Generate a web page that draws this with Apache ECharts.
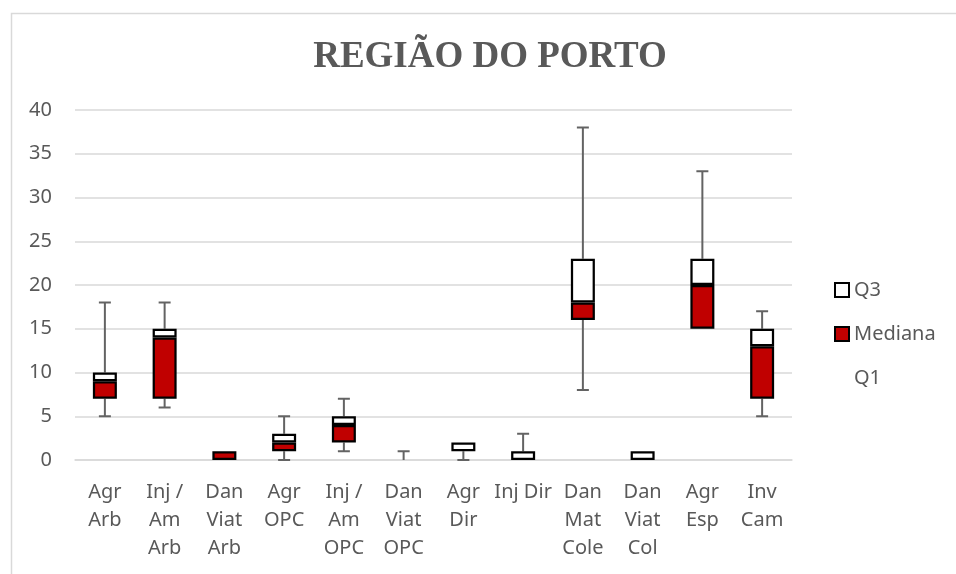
<!DOCTYPE html>
<html>
<head>
<meta charset="utf-8">
<script src="https://cdn.jsdelivr.net/npm/echarts@6/dist/echarts.min.js"></script>
<style>html,body{margin:0;padding:0;background:#fff}#c{width:956px;height:574px}</style>
</head>
<body>
<div id="c"></div>
<script>
const categories = ['Agr\nArb', 'Inj /\nAm\nArb', 'Dan\nViat\nArb', 'Agr\nOPC', 'Inj /\nAm\nOPC', 'Dan\nViat\nOPC', 'Agr\nDir', 'Inj Dir', 'Dan\nMat\nCole', 'Dan\nViat\nCol', 'Agr\nEsp', 'Inv\nCam'];
const minV   = [5, 6, 0, 0, 1, 0, 0, 0, 8, 0, 15, 5];
const q1V    = [7, 7, 0, 1, 2, 0, 1, 0, 16, 0, 15, 7];
const medV   = [9, 14, 1, 2, 4, 0, 1, 0, 18, 0, 20, 13];
const q3V    = [10, 15, 1, 3, 5, 0, 2, 1, 23, 1, 23, 15];
const maxV   = [18, 18, 1, 5, 7, 1, 2, 3, 38, 1, 33, 17];
const yTicks = [0, 5, 10, 15, 20, 25, 30, 35, 40];

const nz = v => (v === 0 ? null : v);
const q1Seg  = q1V.map(nz);
const medSeg = medV.map((m, i) => nz(m - q1V[i]));
const q3Seg  = q3V.map((q, i) => nz(q - medV[i]));
const whiskers = categories.map((c, i) => [i, q1V[i], minV[i], q3V[i], maxV[i]]);

const chart = echarts.init(document.getElementById('c'), null, {renderer: 'canvas'});
const axisFont = {fontFamily: 'Noto Sans', fontSize: 20, color: '#595959'};
chart.setOption({
  animation: false,
  backgroundColor: '#fff',
  graphic: [
    {type: 'rect', shape: {x: 11.5, y: 13.5, width: 1000, height: 600},
     style: {fill: 'none', stroke: '#d9d9d9', lineWidth: 1.5}, silent: true, z: -10},
    {type: 'text', x: 490, y: 57,
     style: {text: 'REGIÃO DO PORTO', fontFamily: 'Liberation Serif', fontWeight: 'bold', fontSize: 37,
             fill: '#595959', align: 'center', verticalAlign: 'middle'}}
  ],
  legend: {
    orient: 'vertical', left: 829, top: 275, itemWidth: 14, itemHeight: 14, itemGap: 24,
    textStyle: Object.assign({}, axisFont, {lineHeight: 20}),
    data: [
      {name: 'Q3', icon: 'rect', itemStyle: {color: '#fff', borderColor: '#000', borderWidth: 2}},
      {name: 'Mediana', icon: 'rect', itemStyle: {color: '#C00000', borderColor: '#000', borderWidth: 2}},
      {name: 'Q1', icon: 'rect', itemStyle: {color: 'rgba(0,0,0,0)', borderWidth: 0}}
    ]
  },
  grid: {left: 75, right: 164, top: 110, bottom: 114, containLabel: false},
  xAxis: {
    type: 'category', data: categories,
    axisLine: {lineStyle: {color: '#d9d9d9', width: 1.5}},
    axisTick: {show: false},
    axisLabel: Object.assign({}, axisFont, {margin: 18, lineHeight: 28, interval: 0})
  },
  yAxis: {
    type: 'value', min: yTicks[0], max: yTicks[yTicks.length - 1], interval: 5,
    axisLine: {show: false}, axisTick: {show: false},
    splitLine: {lineStyle: {color: '#d9d9d9', width: 1.5}},
    axisLabel: Object.assign({}, axisFont, {margin: 23})
  },
  series: [
    {name: 'Q1', type: 'bar', stack: 'b', barWidth: 24, data: q1Seg,
     itemStyle: {color: 'rgba(0,0,0,0)', borderWidth: 0}},
    {name: 'Mediana', type: 'bar', stack: 'b', barWidth: 24, data: medSeg,
     itemStyle: {color: '#C00000', borderColor: '#000', borderWidth: 2.25}},
    {name: 'Q3', type: 'bar', stack: 'b', barWidth: 24, data: q3Seg,
     itemStyle: {color: '#fff', borderColor: '#000', borderWidth: 2.25}},
    {name: 'whisk', type: 'custom', data: whiskers, z: 1,
     renderItem: function (params, api) {
       const x = api.value(0);
       const pq1 = api.coord([x, api.value(1)]);
       const pmin = api.coord([x, api.value(2)]);
       const pq3 = api.coord([x, api.value(3)]);
       const pmax = api.coord([x, api.value(4)]);
       const st = {stroke: '#636363', lineWidth: 2};
       const cap = 6;
       const ch = [];
       if (api.value(2) < api.value(1)) {
         ch.push({type: 'line', shape: {x1: pq1[0], y1: pq1[1], x2: pmin[0], y2: pmin[1]}, style: st});
         ch.push({type: 'line', shape: {x1: pmin[0] - cap, y1: pmin[1], x2: pmin[0] + cap, y2: pmin[1]}, style: st});
       }
       if (api.value(4) > api.value(3)) {
         ch.push({type: 'line', shape: {x1: pq3[0], y1: pq3[1], x2: pmax[0], y2: pmax[1]}, style: st});
         ch.push({type: 'line', shape: {x1: pmax[0] - cap, y1: pmax[1], x2: pmax[0] + cap, y2: pmax[1]}, style: st});
       }
       return {type: 'group', children: ch};
     }}
  ]
});
</script>
</body>
</html>
